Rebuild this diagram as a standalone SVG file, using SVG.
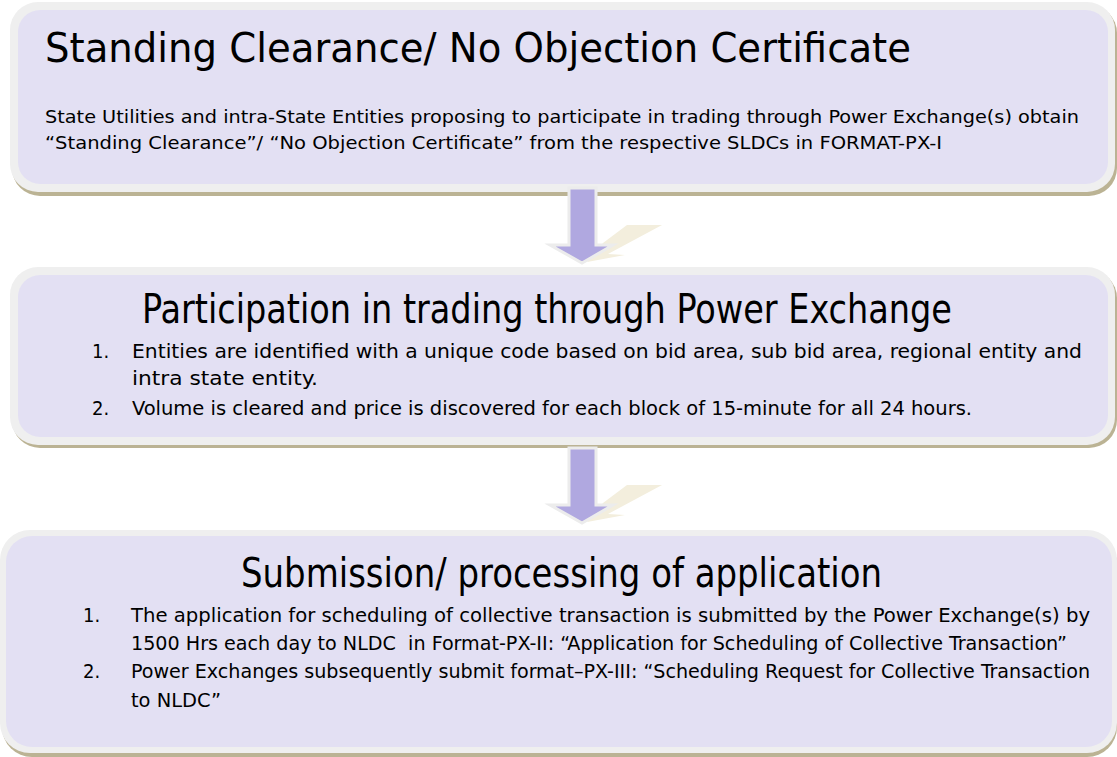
<svg xmlns="http://www.w3.org/2000/svg" width="1117" height="757" viewBox="0 0 1117 757">
<style>
.shadow{fill:#bbb394}
.outer{fill:#efefef}
.inner{fill:#e3e0f3}
.title{font-family:"DejaVu Sans Condensed","DejaVu Sans",sans-serif;font-stretch:condensed;font-size:41px;fill:#000}
.body{font-family:"DejaVu Sans Condensed","DejaVu Sans",sans-serif;font-stretch:condensed;font-size:18px;fill:#000}
.list{font-family:"DejaVu Sans Condensed","DejaVu Sans",sans-serif;font-stretch:condensed;font-size:20px;fill:#000}
.arrow{fill:#b0a8e0;stroke:#ececec;stroke-width:3}
.spark{fill:#f3eedd}
</style>
<rect width="1117" height="757" fill="#fff"/>
<g id="node1">
<rect class="shadow" x="12" y="5" width="1105" height="191" rx="28"/>
<rect class="outer" x="10" y="2" width="1105" height="190" rx="28"/>
<rect class="inner" x="18" y="10" width="1090" height="174" rx="22"/>
<text class="title" x="45" y="62" textLength="866" lengthAdjust="spacingAndGlyphs">Standing Clearance/ No Objection Certificate</text>
<text class="body" x="45" y="123" textLength="1034" lengthAdjust="spacingAndGlyphs">State Utilities and intra-State Entities proposing to participate in trading through Power Exchange(s) obtain</text>
<text class="body" x="45" y="149" textLength="897" lengthAdjust="spacingAndGlyphs">“Standing Clearance”/ “No Objection Certificate” from the respective SLDCs in FORMAT-PX-I</text>
</g>
<g id="node2">
<rect class="shadow" x="12" y="270" width="1105" height="178" rx="28"/>
<rect class="outer" x="10" y="267" width="1105" height="178" rx="28"/>
<rect class="inner" x="18" y="275" width="1090" height="162" rx="22"/>
<text class="title" x="142" y="323" textLength="810" lengthAdjust="spacingAndGlyphs">Participation in trading through Power Exchange</text>
<text class="list" x="92" y="358">1.</text>
<text class="list" x="132" y="358" textLength="950" lengthAdjust="spacingAndGlyphs">Entities are identified with a unique code based on bid area, sub bid area, regional entity and</text>
<text class="list" x="132" y="385" textLength="186" lengthAdjust="spacingAndGlyphs">intra state entity.</text>
<text class="list" x="92" y="415">2.</text>
<text class="list" x="132" y="415" textLength="840" lengthAdjust="spacingAndGlyphs">Volume is cleared and price is discovered for each block of 15-minute for all 24 hours.</text>
</g>
<g id="node3">
<rect class="shadow" x="2" y="534" width="1115" height="223" rx="30"/>
<rect class="outer" x="0" y="530" width="1117" height="223" rx="30"/>
<rect class="inner" x="6" y="536" width="1106" height="211" rx="26"/>
<text class="title" x="241" y="587" textLength="641" lengthAdjust="spacingAndGlyphs">Submission/ processing of application</text>
<text class="list" x="83" y="622">1.</text>
<text class="list" x="131" y="622" textLength="959" lengthAdjust="spacingAndGlyphs">The application for scheduling of collective transaction is submitted by the Power Exchange(s) by</text>
<text class="list" x="131" y="650" textLength="936" lengthAdjust="spacingAndGlyphs" xml:space="preserve">1500 Hrs each day to NLDC  in Format-PX-II: “Application for Scheduling of Collective Transaction”</text>
<text class="list" x="83" y="678">2.</text>
<text class="list" x="131" y="678" textLength="959" lengthAdjust="spacingAndGlyphs">Power Exchanges subsequently submit format–PX-III: “Scheduling Request for Collective Transaction</text>
<text class="list" x="131" y="707" textLength="90" lengthAdjust="spacingAndGlyphs">to NLDC”</text>
</g>
<g id="connectors">
<polygon class="spark" points="587,262 625,255 608,254 662,225 627,225 603,243"/>
<polygon class="arrow" points="569,188 596,188 596,245 613,245 582,263 550,245 569,245"/>
<polygon class="spark" points="587,522 625,515 608,514 662,485 627,485 603,503"/>
<polygon class="arrow" points="569,448 596,448 596,505 613,505 582,523 550,505 569,505"/>
</g>
</svg>
